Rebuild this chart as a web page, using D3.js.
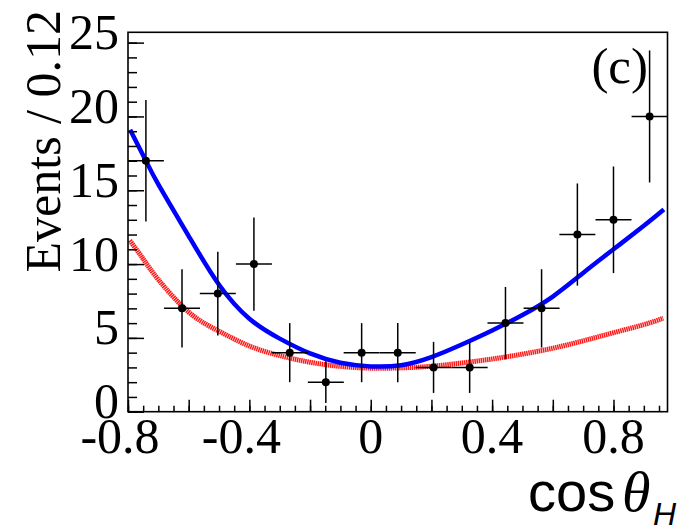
<!DOCTYPE html>
<html><head><meta charset="utf-8">
<script src="https://cdn.jsdelivr.net/npm/d3@7"></script>
<style>html,body{margin:0;padding:0;background:#fff;} svg{display:block}</style>
</head><body><svg id="c" width="689" height="526"></svg>
<script>
// ---- data ----
const binCenters = [-0.741,-0.622,-0.504,-0.385,-0.267,-0.148,-0.030,0.089,0.207,0.326,0.444,0.563,0.681,0.800,0.919];
const binHalfWidths = [0.0593,0.0593,0.0593,0.0593,0.0593,0.0593,0.0593,0.0593,0.0593,0.0593,0.0593,0.0593,0.0593,0.0593,0.0593];
const counts = [17,7,8,10,4,2,4,4,3,3,6,7,12,13,20];
const countErrors = [4.12,2.65,2.83,3.16,2.00,1.41,2.00,2.00,1.73,1.73,2.45,2.65,3.46,3.61,4.47];

const blueX = [-0.793,-0.741,-0.7,-0.6,-0.5,-0.4,-0.3,-0.2,-0.1,0.0,0.1,0.2,0.3,0.4,0.5,0.6,0.7,0.8,0.9,0.966];
const blueY = [19.1,17.0,15.4,11.9,8.6,6.3,4.95,3.95,3.32,3.07,3.15,3.7,4.55,5.5,6.55,7.8,9.4,11.0,12.6,13.7];

const redX = [-0.794,-0.75,-0.7,-0.6,-0.5,-0.4,-0.3,-0.2,-0.1,0.0,0.1,0.2,0.3,0.4,0.5,0.6,0.7,0.8,0.9,0.964];
const redY = [11.6,10.35,8.95,6.75,5.45,4.45,3.8,3.35,3.07,2.95,2.97,3.08,3.3,3.57,3.9,4.3,4.8,5.35,5.9,6.33];

const xTickLabels = ["-0.8","-0.4","0","0.4","0.8"];
const yTickLabels = ["0","5","10","15","20","25"];
const yTitle = "Events / 0.12";
const panelLabel = "(c)";

// ---- layout ----
const svg = d3.select("#c");
const L = 128, T = 32.3, R = 667.5, B = 411.7;
const x = d3.scaleLinear().domain([-0.8, 0.978]).range([L, R]);
const y = d3.scaleLinear().domain([0, 25.7]).range([B, T]);

svg.append("defs").append("clipPath").attr("id","clip")
  .append("rect").attr("x",L).attr("y",T).attr("width",R-L).attr("height",B-T);

// curves
const blue = blueX.map((v,i)=>[v, blueY[i]]);
const red = redX.map((v,i)=>[v, redY[i]]);
const line = d3.line().x(d=>x(d[0])).y(d=>y(d[1])).curve(d3.curveNatural);
const cg = svg.append("g").attr("clip-path","url(#clip)");
cg.append("path").attr("d", line(red)).attr("fill","none")
  .attr("stroke","#ff0000").attr("stroke-width",5).attr("stroke-dasharray","1.5 0.6").attr("stroke-opacity",0.9);
cg.append("path").attr("d", line(blue)).attr("fill","none")
  .attr("stroke","#0000ff").attr("stroke-width",4.5);

// data points
const pts = svg.append("g");
counts.forEach((c,i)=>{
  const cx = x(binCenters[i]), cy = y(c);
  pts.append("line").attr("x1",x(binCenters[i]-binHalfWidths[i])).attr("x2",x(binCenters[i]+binHalfWidths[i]))
    .attr("y1",cy).attr("y2",cy).attr("stroke","#000").attr("stroke-width",1.5);
  pts.append("line").attr("x1",cx).attr("x2",cx)
    .attr("y1",y(c+countErrors[i])).attr("y2",y(Math.max(0,c-countErrors[i])))
    .attr("stroke","#000").attr("stroke-width",1.5);
  pts.append("circle").attr("cx",cx).attr("cy",cy).attr("r",4).attr("fill","#000");
});

// axes (ticks inward)
const xMinor = d3.range(-0.8, 0.97, 0.05);
const xMajor = d3.range(-0.8, 0.81, 0.2);
const yMinor = d3.range(0, 25.5, 1);
const yMajor = d3.range(0, 25.5, 5);
const gx = svg.append("g").attr("transform",`translate(0,${B})`);
gx.call(d3.axisBottom(x).tickValues(xMinor).tickSize(-6).tickFormat(""));
gx.call(g=>g.select(".domain").remove());
const gx2 = svg.append("g").attr("transform",`translate(0,${B})`);
gx2.call(d3.axisBottom(x).tickValues(xMajor).tickSize(-12).tickFormat(""));
gx2.call(g=>g.select(".domain").remove());
const gy = svg.append("g").attr("transform",`translate(${L},0)`);
gy.call(d3.axisLeft(y).tickValues(yMinor).tickSize(-9).tickFormat(""));
gy.call(g=>g.select(".domain").remove());
const gy2 = svg.append("g").attr("transform",`translate(${L},0)`);
gy2.call(d3.axisLeft(y).tickValues(yMajor).tickSize(-16).tickFormat(""));
gy2.call(g=>g.select(".domain").remove());
svg.selectAll(".tick line").attr("stroke","#000").attr("stroke-width",1.5);

// frame
svg.append("rect").attr("x",L).attr("y",T).attr("width",R-L).attr("height",B-T)
  .attr("fill","none").attr("stroke","#000").attr("stroke-width",1.6);

// tick labels
const serif = "'Liberation Serif','Times New Roman',serif";
xTickLabels.forEach(s=>{
  const v = +s;
  svg.append("text").attr("x", x(v)).attr("y", 453)
    .attr("text-anchor","middle").attr("dx", v<0 ? -8 : 0)
    .attr("font-family",serif).attr("font-size",50).attr("fill","#000").text(s);
});
yTickLabels.forEach(s=>{
  svg.append("text").attr("x", 119).attr("y", y(+s)+6.5)
    .attr("text-anchor","end").attr("font-family",serif).attr("font-size",50).attr("fill","#000").text(s);
});

// titles
svg.append("text").attr("transform","translate(60,10) rotate(-90)")
  .attr("text-anchor","end").attr("font-family",serif).attr("font-size",50).attr("fill","#000").text(yTitle);
svg.append("text").attr("x",648).attr("y",83).attr("text-anchor","end")
  .attr("font-family",serif).attr("font-size",51).attr("fill","#000").text(panelLabel);

const xt = svg.append("g");
xt.append("text").attr("x",528).attr("y",511).attr("font-family","'Liberation Sans',Arial,sans-serif")
  .attr("font-size",56).attr("fill","#000").text("cos");
xt.append("text").attr("x",622).attr("y",511).attr("font-family",serif).attr("font-style","italic")
  .attr("font-size",58).attr("fill","#000").text("θ");
xt.append("text").attr("x",653).attr("y",525).attr("font-family","'Liberation Sans',Arial,sans-serif").attr("font-style","italic")
  .attr("font-size",32).attr("fill","#000").text("H");
</script></body></html>
